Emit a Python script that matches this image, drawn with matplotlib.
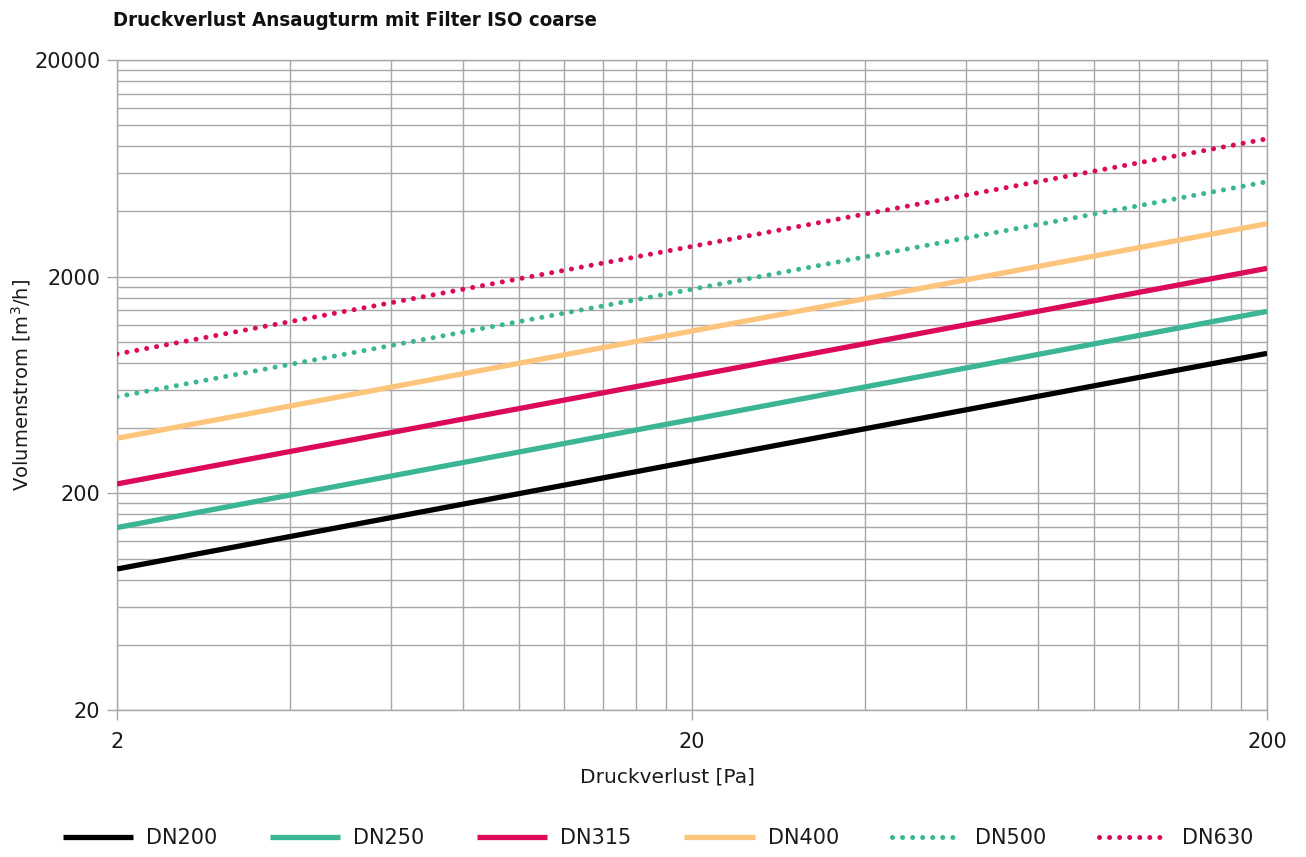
import numpy as np
import matplotlib.pyplot as plt
from matplotlib.ticker import FixedLocator, NullFormatter
from matplotlib import font_manager

# Druckverlust [Pa] (endpoints of the straight log-log lines)
druck = [2, 200]

# Volumenstrom [m3/h] per nominal diameter
dn200 = [89.5, 885]
dn250 = [139, 1383]
dn315 = [221, 2185]
dn400 = [359, 3510]
dn500 = [558, 5485]
dn630 = [879, 8655]

labels = ["DN200", "DN250", "DN315", "DN400", "DN500", "DN630"]
series = [dn200, dn250, dn315, dn400, dn500, dn630]
colors = ["#000000", "#3bb593", "#dc0a5a", "#fdc47c", "#3bb593", "#dc0a5a"]
dotted = [False, False, False, False, True, True]

x_major = [2, 20, 200]
y_major = [20, 200, 2000, 20000]

plt.rcParams['font.family'] = ['DejaVu Sans']

fig = plt.figure(figsize=(13.06, 8.57), dpi=100)
ax = fig.add_axes([117 / 1306, 1 - 710 / 857, 1150 / 1306, 650 / 857])

grid_color = "#a8a8a8"
text_color = "#1a1a1a"

for vals, lab, col, dot in zip(series, labels, colors, dotted):
    if dot:
        ax.plot(druck, vals, color=col, lw=3.6, linestyle=(0, (0.01, 2.0)),
                dash_capstyle="round", label=lab, zorder=3)
    else:
        ax.plot(druck, vals, color=col, lw=3.8, solid_capstyle="butt",
                label=lab, zorder=3)

ax.set_xscale("log")
ax.set_yscale("log")
ax.set_xlim(2, 200)
ax.set_ylim(20, 20000)

ax.xaxis.set_major_locator(FixedLocator(x_major))
ax.yaxis.set_major_locator(FixedLocator(y_major))
x_minor = [m * d for d in (1, 10) for m in (2, 4, 6, 8, 10, 12, 14, 16, 18)]
y_minor = [m * d for d in (10, 100, 1000) for m in (2, 4, 6, 8, 10, 12, 14, 16, 18)]
ax.xaxis.set_minor_locator(FixedLocator(x_minor))
ax.yaxis.set_minor_locator(FixedLocator(y_minor))
ax.xaxis.set_minor_formatter(NullFormatter())
ax.yaxis.set_minor_formatter(NullFormatter())
ax.set_xticklabels([str(v) for v in x_major])
ax.set_yticklabels([str(v) for v in y_major])

ax.grid(True, which="both", color=grid_color, lw=1.0, zorder=0)
ax.tick_params(which="major", length=7, width=1.0, color=grid_color,
               labelsize=15, labelcolor=text_color)
ax.tick_params(axis="x", which="major", pad=9)
ax.tick_params(axis="y", which="major", pad=5)
ax.tick_params(which="minor", length=0)
for s in ax.spines.values():
    s.set_color(grid_color)
    s.set_linewidth(1.0)

ax.set_xlabel("Druckverlust [Pa]", fontsize=14.5, color=text_color)
ax.xaxis.set_label_coords((668 - 117) / 1150, -(777 - 710) / 650, transform=ax.transAxes)
ax.xaxis.label.set_va("center")
ax.set_ylabel("Volumenstrom [m$^3$/h]", fontsize=14, color=text_color)
ax.yaxis.set_label_coords(-(117 - 21) / 1150, (710 - 385) / 650)
ax.yaxis.label.set_va("center")

# condensed heavy title
title_font = font_manager.FontProperties(family="DejaVu Sans", weight="bold",
                                         stretch="condensed", size=14.7)
fig.text(113 / 1306, 1 - 20 / 857, "Druckverlust Ansaugturm mit Filter ISO coarse",
         fontproperties=title_font, va="center", ha="left", color="#111111")

fig.legend(loc="center", bbox_to_anchor=(658 / 1306, 1 - 838 / 857), ncol=6, frameon=False,
           fontsize=15, handlelength=3.37, handletextpad=0.62, columnspacing=2.54,
           labelcolor=text_color)

fig.savefig("out.png", dpi=100)
